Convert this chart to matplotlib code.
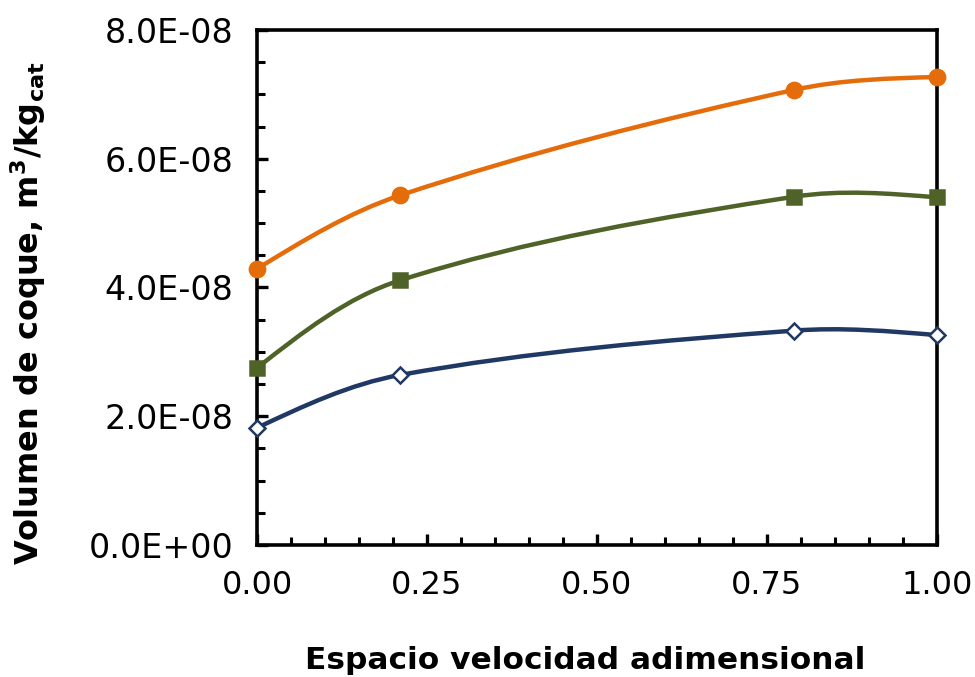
import numpy as np
import matplotlib
matplotlib.use("Agg")
import matplotlib.pyplot as plt
from matplotlib.path import Path
from matplotlib.patches import PathPatch
from matplotlib.ticker import MultipleLocator, FormatStrFormatter, FuncFormatter

plt.rcParams["font.family"] = "DejaVu Sans"
plt.rcParams["mathtext.default"] = "regular"

# dimensionless space velocity
x = [0.0, 0.21, 0.79, 1.0]
# coke volume per series, m3/kg_cat
coque_alto = [4.29e-8, 5.43e-8, 7.07e-8, 7.27e-8]
coque_medio = [2.75e-8, 4.11e-8, 5.41e-8, 5.40e-8]
coque_bajo = [1.82e-8, 2.64e-8, 3.33e-8, 3.26e-8]

xticks = [0.0, 0.25, 0.5, 0.75, 1.0]
yticks = [0.0, 2e-8, 4e-8, 6e-8, 8e-8]


def smooth_path(ax, xs, ys):
    # spreadsheet-like smoothed line: bezier built in screen space,
    # handle length weighted by neighbouring segment lengths,
    # zero curvature at both ends
    p = ax.transData.transform(np.column_stack([xs, ys]))
    n = len(p)
    d = np.hypot(*np.diff(p, axis=0).T)
    out_c = [None] * n
    in_c = [None] * n
    for i in range(1, n - 1):
        tang = p[i + 1] - p[i - 1]
        in_c[i] = p[i] - tang * d[i - 1] / (d[i - 1] + d[i]) / 3
        out_c[i] = p[i] + tang * d[i] / (d[i - 1] + d[i]) / 3
    out_c[0] = (p[0] + in_c[1]) / 2
    in_c[n - 1] = (p[n - 1] + out_c[n - 2]) / 2
    verts = [p[0]]
    codes = [Path.MOVETO]
    for i in range(n - 1):
        verts += [out_c[i], in_c[i + 1], p[i + 1]]
        codes += [Path.CURVE4] * 3
    verts = ax.transData.inverted().transform(np.array(verts))
    return Path(verts, codes)


def display(ax):
    ax.set_xlim(0, 1)
    ax.set_ylim(0, 8e-8)

    series = [
        (coque_alto, "#E46C0A", "o", 11, "#E46C0A"),
        (coque_medio, "#4F6228", "s", 10, "#4F6228"),
        (coque_bajo, "#1F3864", "D", 8.5, "white"),
    ]
    for ys, color, marker, ms, face in series:
        ax.add_patch(PathPatch(smooth_path(ax, x, ys), facecolor="none",
                               edgecolor=color, lw=3.2, zorder=2,
                               capstyle="round"))
        ax.plot(x, ys, linestyle="none", marker=marker, markersize=ms,
                markerfacecolor=face, markeredgecolor=color,
                markeredgewidth=1.8, zorder=3, clip_on=False)

    ax.set_xticks(xticks)
    ax.set_yticks(yticks)
    ax.xaxis.set_minor_locator(MultipleLocator(0.05))
    ax.yaxis.set_minor_locator(MultipleLocator(0.5e-8))
    ax.xaxis.set_major_formatter(FormatStrFormatter("%.2f"))
    ax.yaxis.set_major_formatter(FuncFormatter(lambda v, pos: "%.1E" % v))

    ax.tick_params(which="major", direction="in", length=8, width=2.4,
                   labelsize=24, pad=17)
    ax.tick_params(which="minor", direction="in", length=5.5, width=2.2)
    ax.tick_params(axis="x", which="major", labelsize=23, pad=18)
    for s in ax.spines.values():
        s.set_linewidth(2.6)

    ax.set_xlabel("Espacio velocidad adimensional", fontsize=22.5,
                  fontweight="bold")
    ax.set_ylabel("Volumen de coque, m$^3$/kg$_{cat}$", fontsize=23,
                  fontweight="bold")
    ax.xaxis.set_label_coords(0.483, -0.196)
    ax.yaxis.set_label_coords(-0.307, 0.45)


def main():
    fig = plt.figure(figsize=(9.75, 6.77), dpi=100)
    ax = fig.add_axes([0.2636, 0.195, 0.6974, 0.7607])
    display(ax)
    fig.savefig("out.png", dpi=100)


if __name__ == "__main__":
    main()
